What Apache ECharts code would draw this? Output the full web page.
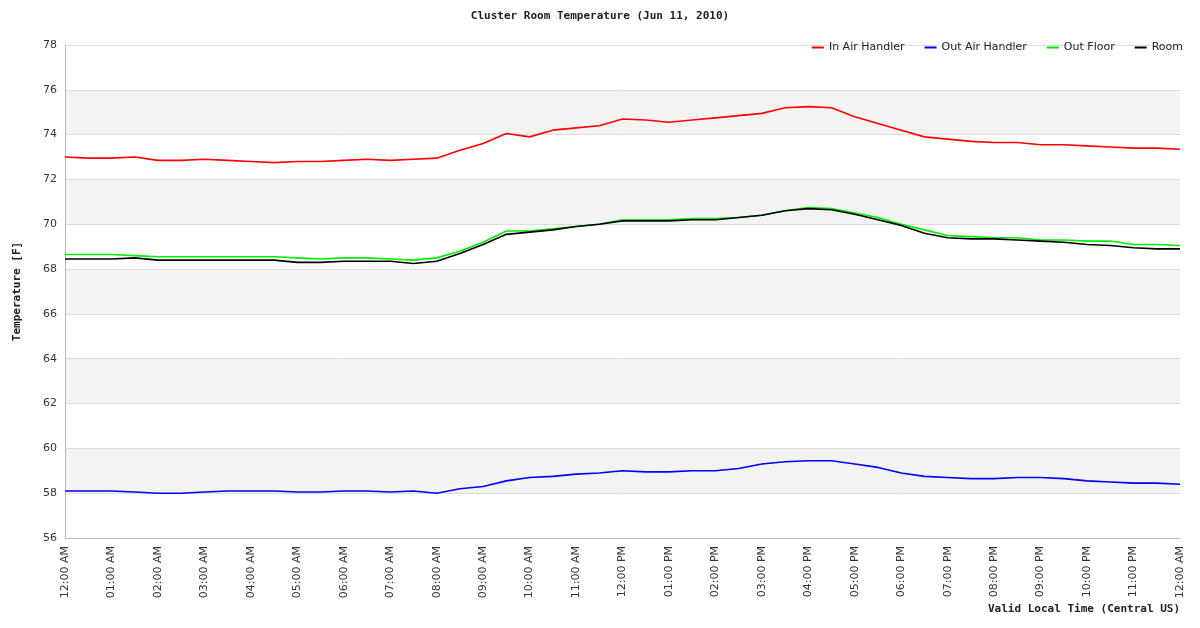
<!DOCTYPE html>
<html><head><meta charset="utf-8">
<script src="https://cdn.jsdelivr.net/npm/echarts@6/dist/echarts.min.js"></script>
<style>html,body{margin:0;padding:0;background:#fff}#chart{width:1200px;height:628px}</style>
</head><body><div id="chart"></div>
<script>
// half-hour samples, 12:00 AM .. 12:00 AM next day
var hours = [];
for (var i = 0; i <= 48; i++) {
    var h = Math.floor(i / 2) % 24, m = i % 2 ? '30' : '00';
    var hh = h % 12 === 0 ? 12 : h % 12;
    hours.push((hh < 10 ? '0' + hh : '' + hh) + ':' + m + (h < 12 ? ' AM' : ' PM'));
}
var inAir = [73.0,72.95,72.95,73.0,72.85,72.85,72.9,72.85,72.8,72.75,72.8,72.8,72.85,72.9,72.85,72.9,72.95,73.3,73.6,74.05,73.9,74.2,74.3,74.4,74.7,74.65,74.55,74.65,74.75,74.85,74.95,75.2,75.25,75.2,74.8,74.5,74.2,73.9,73.8,73.7,73.65,73.65,73.55,73.55,73.5,73.45,73.4,73.4,73.35];
var outAir = [58.1,58.1,58.1,58.05,58.0,58.0,58.05,58.1,58.1,58.1,58.05,58.05,58.1,58.1,58.05,58.1,58.0,58.2,58.3,58.55,58.7,58.75,58.85,58.9,59.0,58.95,58.95,59.0,59.0,59.1,59.3,59.4,59.45,59.45,59.3,59.15,58.9,58.75,58.7,58.65,58.65,58.7,58.7,58.65,58.55,58.5,58.45,58.45,58.4];
var outFloor = [68.65,68.65,68.65,68.6,68.55,68.55,68.55,68.55,68.55,68.55,68.5,68.45,68.5,68.5,68.45,68.4,68.5,68.8,69.2,69.7,69.7,69.8,69.9,70.0,70.2,70.2,70.2,70.25,70.25,70.3,70.4,70.6,70.75,70.7,70.5,70.3,70.0,69.75,69.5,69.45,69.4,69.4,69.3,69.3,69.25,69.25,69.1,69.1,69.05];
var room = [68.45,68.45,68.45,68.5,68.4,68.4,68.4,68.4,68.4,68.4,68.3,68.3,68.35,68.35,68.35,68.25,68.35,68.7,69.1,69.55,69.65,69.75,69.9,70.0,70.15,70.15,70.15,70.2,70.2,70.3,70.4,70.6,70.7,70.65,70.45,70.2,69.95,69.6,69.4,69.35,69.35,69.3,69.25,69.2,69.1,69.05,68.95,68.9,68.9];

var myChart = echarts.init(document.getElementById('chart'));
function line(name, data, color) {
    return {name: name, type: 'line', data: data, symbol: 'none',
        lineStyle: {color: color, width: 1.6}, itemStyle: {color: color}};
}
var option = {
    animation: false,
    title: {text: 'Cluster Room Temperature (Jun 11, 2010)', left: 'center', top: 6,
        textStyle: {fontFamily: 'DejaVu Sans Mono', fontSize: 11, fontWeight: 'bold', color: '#222'}},
    legend: {right: 12, top: 37, itemWidth: 12, itemHeight: 2, itemGap: 20, icon: 'rect',
        textStyle: {fontFamily: 'DejaVu Sans', fontSize: 11, color: '#222'}},
    grid: {left: 65, right: 20, top: 45, bottom: 90},
    xAxis: {type: 'category', data: hours, boundaryGap: false,
        name: 'Valid Local Time (Central US)', nameLocation: 'end', nameGap: 0,
        nameTextStyle: {fontFamily: 'DejaVu Sans Mono', fontWeight: 'bold', fontSize: 11, color: '#222',
            align: 'right', verticalAlign: 'top', padding: [66, 0, 0, 0]},
        axisLine: {lineStyle: {color: '#bbb'}}, axisTick: {show: false},
        axisLabel: {interval: 1, rotate: 90, fontFamily: 'DejaVu Sans', fontSize: 11, color: '#333'},
        splitLine: {show: false}},
    yAxis: {type: 'value', min: 56, max: 78, interval: 2,
        name: 'Temperature [F]', nameLocation: 'middle', nameGap: 42, nameRotate: 90,
        nameTextStyle: {fontFamily: 'DejaVu Sans Mono', fontWeight: 'bold', fontSize: 11, color: '#222'},
        axisLine: {show: true, lineStyle: {color: '#bbb'}}, axisTick: {show: false},
        axisLabel: {fontFamily: 'DejaVu Sans', fontSize: 11, color: '#333'},
        splitLine: {lineStyle: {color: '#ddd'}},
        splitArea: {show: true, areaStyle: {color: ['#ffffff', '#f3f3f3']}}},
    series: [
        line('In Air Handler', inAir, '#ff0000'),
        line('Out Air Handler', outAir, '#0000ff'),
        line('Out Floor', outFloor, '#00ee00'),
        line('Room', room, '#000000')
    ]
};
myChart.setOption(option);
</script></body></html>
